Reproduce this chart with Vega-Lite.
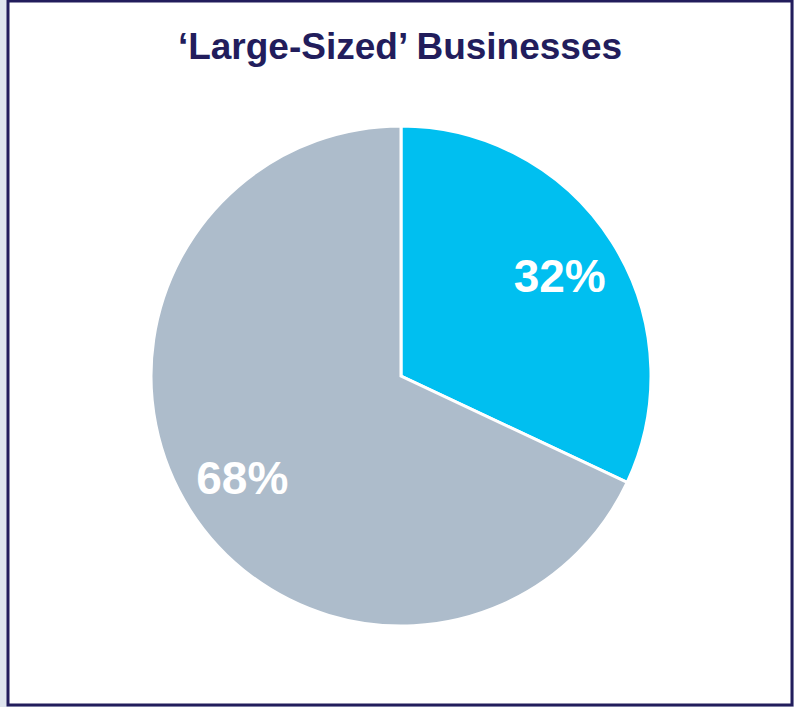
{
  "$schema": "https://vega.github.io/schema/vega-lite/v6.json",
  "width": 784,
  "height": 704,
  "autosize": {"type": "none"},
  "padding": {"left": 8, "top": 1, "right": 2, "bottom": 2},
  "background": "#DFE5EE",
  "view": {"fill": "#FFFFFF", "stroke": "#221D5C", "strokeWidth": 3},
  "title": {
    "text": "‘Large-Sized’ Businesses",
    "orient": "top",
    "anchor": "middle",
    "offset": -95,
    "baseline": "alphabetic",
    "font": "Liberation Sans",
    "fontSize": 37,
    "fontWeight": "bold",
    "color": "#221D5C"
  },
  "data": {
    "values": [
      {"segment": "Share A", "share": 0.32, "ord": 1},
      {"segment": "Share B", "share": 0.68, "ord": 2}
    ]
  },
  "encoding": {
    "theta": {"field": "share", "type": "quantitative", "stack": true},
    "order": {"field": "ord", "type": "ordinal"}
  },
  "layer": [
    {
      "mark": {"type": "arc", "outerRadius": 250, "stroke": "#FFFFFF", "strokeWidth": 3, "xOffset": 1, "yOffset": 23},
      "encoding": {
        "color": {
          "field": "segment",
          "type": "nominal",
          "scale": {"domain": ["Share A", "Share B"], "range": ["#00BFF0", "#ADBCCB"]},
          "legend": null
        }
      }
    },
    {
      "mark": {"type": "text", "radius": 188, "font": "Liberation Sans", "fontSize": 46, "fontWeight": "bold", "color": "#FFFFFF", "xOffset": 1, "yOffset": 23, "dy": 3},
      "encoding": {
        "text": {"field": "share", "type": "quantitative", "format": ".0%"}
      }
    }
  ]
}
